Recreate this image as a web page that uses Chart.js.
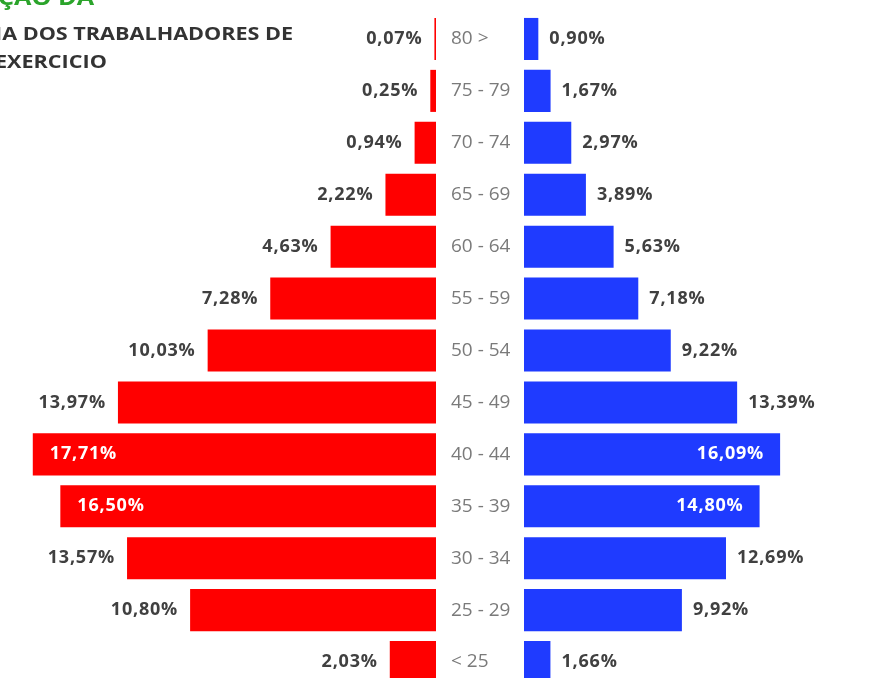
<!DOCTYPE html>
<html>
<head>
<meta charset="utf-8">
<script src="https://cdn.jsdelivr.net/npm/chart.js@4.4.1/dist/chart.umd.min.js"></script>
<style>
  html, body { margin: 0; padding: 0; background: #fff; overflow: hidden; width: 871px; height: 678px; }
  .box { position: absolute; top: 0; }
  #boxF { left: 0; width: 436px; height: 700px; }
  #boxM { left: 451px; width: 420px; height: 700px; }
  .t { position: absolute; white-space: nowrap; font-family: 'Open Sans', sans-serif; font-weight: 700;
       font-size: 18px; transform: scaleX(1.2); transform-origin: left center; }
</style>
</head>
<body>
<div class="box" id="boxF"><canvas id="chartF"></canvas></div>
<div class="box" id="boxM"><canvas id="chartM"></canvas></div>
<div class="t" style="left:-2px; top:-17px; color:#2ba42b; font-size:21px;">ÇÃO DA</div>
<div class="t" style="left:-5px; top:21px; color:#333;">IA DOS TRABALHADORES DE</div>
<div class="t" style="left:-5px; top:49px; color:#333;">EXERCICIO</div>
<script>
// faixas etárias, de cima para baixo
const faixas = ['80 >', '75 - 79', '70 - 74', '65 - 69', '60 - 64', '55 - 59', '50 - 54',
                '45 - 49', '40 - 44', '35 - 39', '30 - 34', '25 - 29', '< 25'];
const feminino = [0.07, 0.25, 0.94, 2.22, 4.63, 7.28, 10.03, 13.97, 17.71, 16.50, 13.57, 10.80, 2.03];
const masculino = [0.90, 1.67, 2.97, 3.89, 5.63, 7.18, 9.22, 13.39, 16.09, 14.80, 12.69, 9.92, 1.66];

const VERMELHO = '#ff0000';
const AZUL = '#1f3bff';
const FONTE = "'Open Sans', sans-serif";

function fmt(v) {
    return v.toFixed(2).replace('.', ',') + '%';
}

// rótulos de valor nas pontas das barras
const rotulos = {
    id: 'rotulos',
    afterDatasetsDraw(chart, args, opts) {
        const ctx = chart.ctx;
        const dados = chart.data.datasets[0].data;
        const meta = chart.getDatasetMeta(0);
        ctx.save();
        ctx.font = 'bold 18px ' + FONTE;
        ctx.letterSpacing = '0.8px';
        ctx.textBaseline = 'middle';
        meta.data.forEach(function(bar, i) {
            const v = dados[i];
            const dentro = v > 14;
            ctx.fillStyle = dentro ? '#ffffff' : '#404040';
            if (opts.lado === 'esq') {
                if (dentro) { ctx.textAlign = 'left'; ctx.fillText(fmt(v), bar.x + 17, bar.y); }
                else { ctx.textAlign = 'right'; ctx.fillText(fmt(v), bar.x - 12, bar.y); }
            } else {
                if (dentro) { ctx.textAlign = 'right'; ctx.fillText(fmt(v), bar.x - 16, bar.y); }
                else { ctx.textAlign = 'left'; ctx.fillText(fmt(v), bar.x + 11, bar.y); }
            }
        });
        ctx.restore();
    }
};

var chartF = new Chart(document.getElementById('chartF'), {
    type: 'bar',
    data: {
        labels: faixas,
        datasets: [{ data: feminino, backgroundColor: VERMELHO, barPercentage: 0.81, categoryPercentage: 1 }]
    },
    options: {
        indexAxis: 'y',
        responsive: true,
        maintainAspectRatio: false,
        animation: false,
        layout: { padding: { top: 13, bottom: 12, left: 0, right: 0 } },
        plugins: { legend: { display: false }, tooltip: { enabled: false }, rotulos: { lado: 'esq' } },
        scales: {
            x: { display: false, reverse: true, min: 0, max: 19.15 },
            y: { display: false }
        }
    },
    plugins: [rotulos]
});

var chartM = new Chart(document.getElementById('chartM'), {
    type: 'bar',
    data: {
        labels: faixas,
        datasets: [{ data: masculino, backgroundColor: AZUL, barPercentage: 0.81, categoryPercentage: 1 }]
    },
    options: {
        indexAxis: 'y',
        responsive: true,
        maintainAspectRatio: false,
        animation: false,
        layout: { padding: { top: 13, bottom: 12, left: 0, right: 0 } },
        plugins: { legend: { display: false }, tooltip: { enabled: false }, rotulos: { lado: 'dir' } },
        scales: {
            x: { display: false, min: 0, max: 21.8 },
            y: {
                position: 'left',
                grid: { display: false },
                border: { display: false },
                ticks: { crossAlign: 'far', padding: 0, color: '#7a7a7a', font: { family: FONTE, size: 19 } },
                afterFit: function(scale) { scale.width = 73; }
            }
        }
    },
    plugins: [rotulos]
});
</script>
</body>
</html>
